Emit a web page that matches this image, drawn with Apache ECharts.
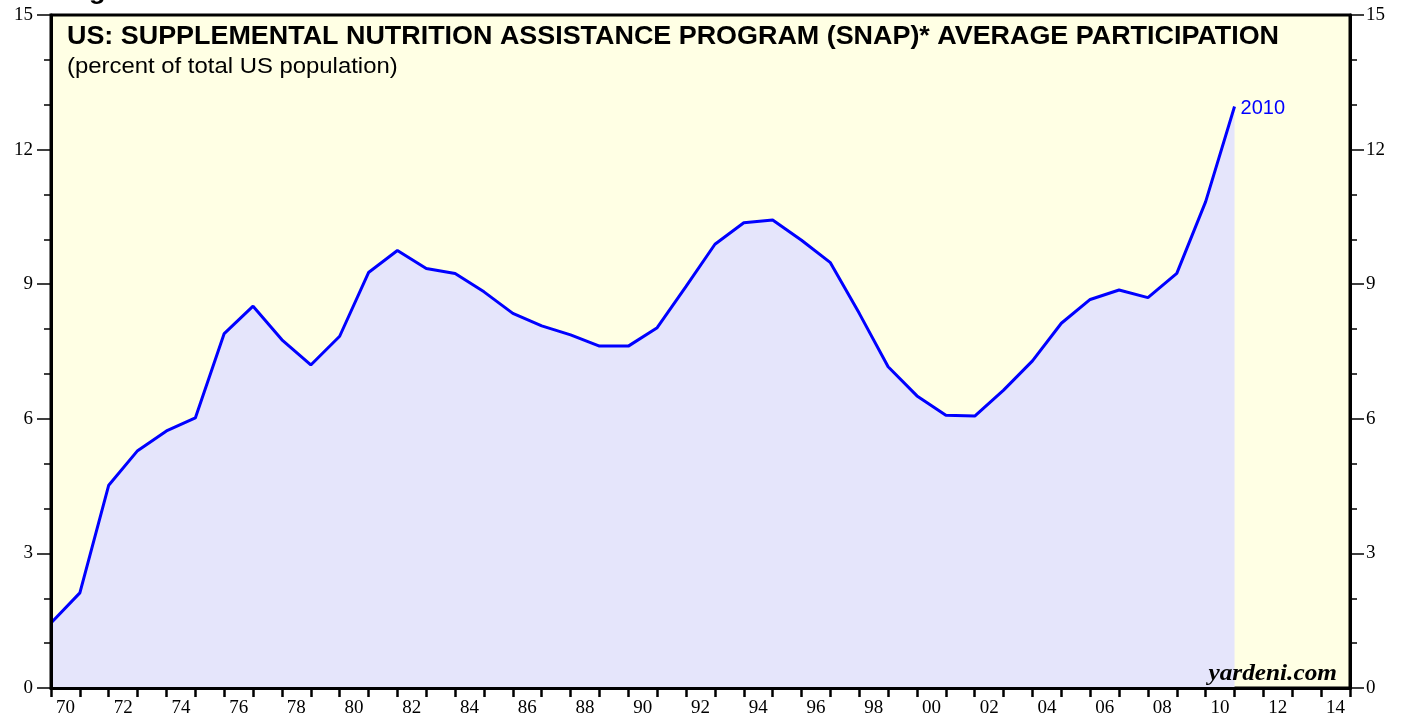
<!DOCTYPE html>
<html>
<head>
<meta charset="utf-8">
<script src="https://cdn.jsdelivr.net/npm/echarts@6/dist/echarts.min.js"></script>
<style>
  html, body { margin: 0; padding: 0; background: #ffffff; }
  #chart { width: 1407px; height: 719px; }
</style>
</head>
<body>
<div id="chart"></div>
<script>
// Fiscal years and SNAP average participation (% of total US population)
var fiscalYears = [1969,1970,1971,1972,1973,1974,1975,1976,1977,1978,1979,
  1980,1981,1982,1983,1984,1985,1986,1987,1988,1989,
  1990,1991,1992,1993,1994,1995,1996,1997,1998,1999,
  2000,2001,2002,2003,2004,2005,2006,2007,2008,2009,2010];
var participation = [1.45,2.12,4.52,5.29,5.73,6.02,7.90,8.51,7.76,7.20,7.84,
  9.26,9.75,9.35,9.24,8.83,8.35,8.07,7.87,7.62,7.62,
  8.03,8.95,9.89,10.37,10.43,9.98,9.48,8.35,7.16,6.51,
  6.08,6.06,6.64,7.29,8.13,8.66,8.87,8.70,9.24,10.84,12.96];

// x-axis year slots (labels shown every other year as two digits)
var axisYears = [];
for (var y = 1970; y <= 2014; y++) axisYears.push(String(y));
var yTicks = { min: 0, max: 15, interval: 3 };

var titleText = 'US: SUPPLEMENTAL NUTRITION ASSISTANCE PROGRAM (SNAP)* AVERAGE PARTICIPATION';
var subtitleText = '(percent of total US population)';
var figureText = 'Figure 3';
var sourceText = 'yardeni.com';

// each fiscal-year value is plotted at the end of its year
var seriesData = fiscalYears.map(function (fy, i) { return [fy + 1, participation[i]]; });
var lastLabel = String(fiscalYears[fiscalYears.length - 1]);

var chart = echarts.init(document.getElementById('chart'));
var serif = 'Liberation Serif';
var sans = 'Liberation Sans';

var yAxisCommon = function (pos) {
  return {
    type: 'value', position: pos, min: yTicks.min, max: yTicks.max, interval: yTicks.interval,
    z: 5,
    axisLine: { show: true, lineStyle: { color: '#000', width: 3 } },
    axisTick: { show: true, inside: false, length: 14, lineStyle: { color: '#000', width: 1.5 } },
    minorTick: { show: true, splitNumber: 3, length: 7, lineStyle: { color: '#000', width: 1.5 } },
    splitLine: { show: false },
    axisLabel: { show: true, color: '#000', fontFamily: serif, fontSize: 19, margin: pos === 'left' ? 18 : 16 }
  };
};

chart.setOption({
  animation: false,
  backgroundColor: '#ffffff',
  grid: {
    left: 51, right: 57, top: 15, bottom: 31,
    show: true, backgroundColor: '#FFFFE4', borderColor: '#000', borderWidth: 3
  },
  xAxis: [
    {
      type: 'category', data: axisYears, position: 'bottom', boundaryGap: true, z: 5,
      axisLine: { show: true, lineStyle: { color: '#000', width: 3 } },
      axisTick: { show: true, interval: 0, inside: false, length: 9, lineStyle: { color: '#000', width: 2.5 } },
      axisLabel: {
        interval: 1, color: '#000', fontFamily: serif, fontSize: 19, margin: 11,
        formatter: function (v) { return v.slice(2); }
      },
      splitLine: { show: false }
    },
    {
      type: 'value', min: 1970, max: 2015, show: false
    }
  ],
  yAxis: [yAxisCommon('left'), yAxisCommon('right')],
  series: [{
    type: 'line',
    xAxisIndex: 1,
    yAxisIndex: 0,
    data: seriesData,
    symbol: 'none',
    lineStyle: { color: '#0000FF', width: 3 },
    areaStyle: { color: '#E5E5FB', opacity: 1 },
    endLabel: {
      show: true, formatter: lastLabel, color: '#0000FF',
      fontFamily: sans, fontSize: 20, distance: 6, offset: [0, 2]
    },
    z: 2
  }],
  graphic: [
    { type: 'text', x: 65, y: 5, z: 10, scaleX: 1.08,
      style: { text: figureText, fontFamily: sans, fontWeight: 'bold', fontSize: 25, fill: '#000', verticalAlign: 'bottom' } },
    { type: 'text', x: 67, y: 37, z: 10, scaleX: 1.076,
      style: { text: titleText, fontFamily: sans, fontWeight: 'bold', fontSize: 25, fill: '#000', verticalAlign: 'middle' } },
    { type: 'text', x: 67, y: 67, z: 10, scaleX: 1.086,
      style: { text: subtitleText, fontFamily: sans, fontSize: 22, fill: '#000', verticalAlign: 'middle' } },
    { type: 'text', x: 1337, y: 674, z: 10, scaleX: 1.1,
      style: { text: sourceText, fontFamily: serif, fontWeight: 'bold', fontStyle: 'italic', fontSize: 23, fill: '#000', align: 'right', verticalAlign: 'middle' } }
  ]
});
</script>
</body>
</html>
